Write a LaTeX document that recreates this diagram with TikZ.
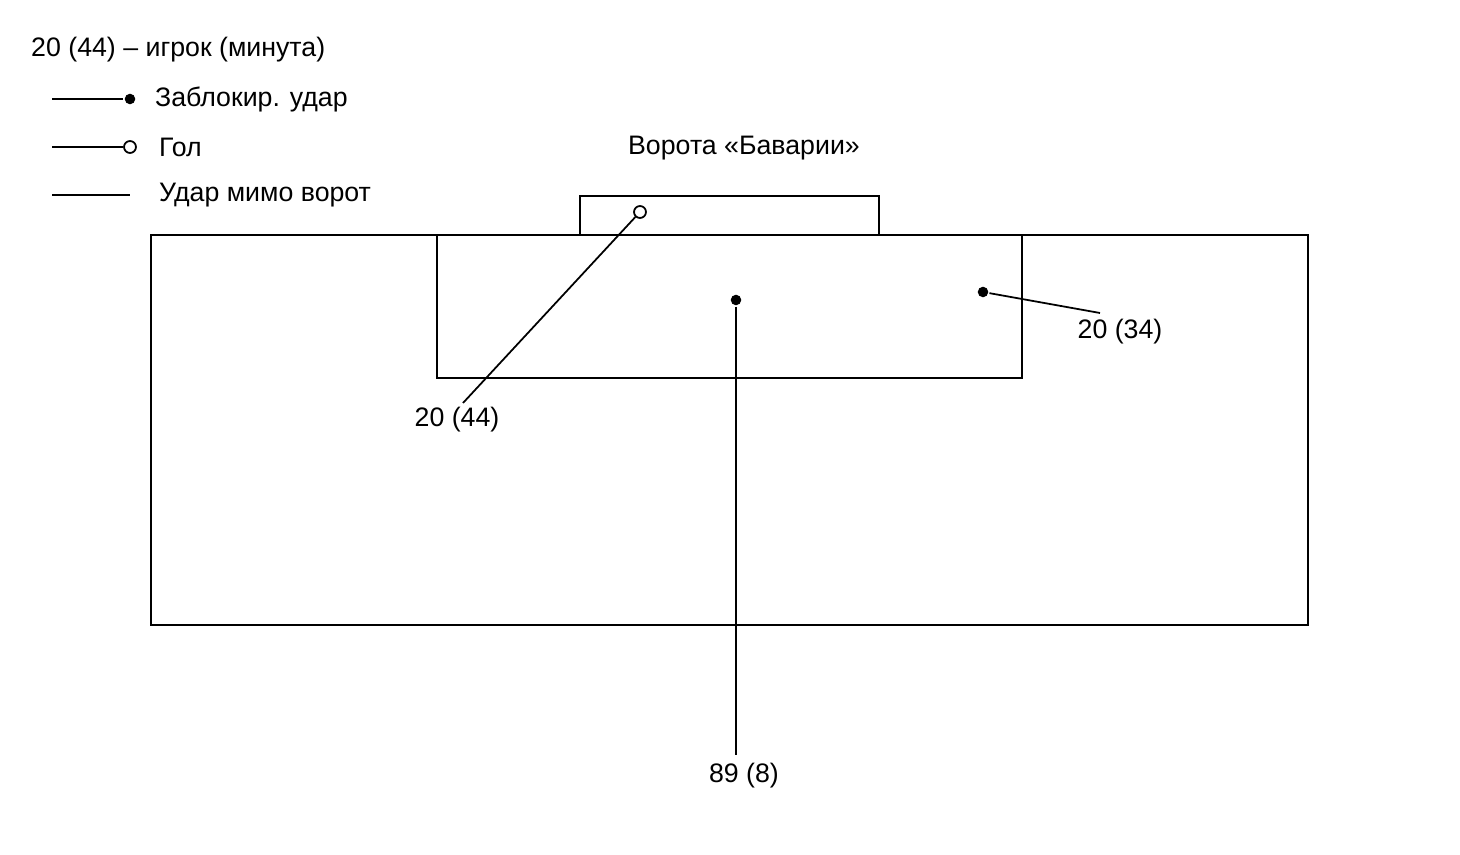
\documentclass[tikz,border=0pt]{standalone}
\usepackage{fontspec}
\setmainfont{Liberation Sans}
\begin{document}
\begin{tikzpicture}[x=0.01cm,y=-0.01cm,line width=0.7pt,
  lbl/.style={font=\fontsize{7.6pt}{9pt}\selectfont,inner sep=0pt},
  bdot/.style={circle,fill=black,inner sep=0pt,minimum size=3pt},
  odot/.style={circle,draw=black,fill=white,line width=0.5pt,inner sep=0pt,minimum size=3.4pt}]
\useasboundingbox (0,0) rectangle (1460,855);
% legend
\node[lbl,anchor=west] (leg) at (30,50) {20 (44) – игрок (минута)};
\coordinate (l1) at (52,99); \node[bdot] (d1) at (130,99) {};
\draw[line width=0.5pt] (l1) -- (d1);
\node[lbl,anchor=west] (t1) at (154,99) {Заблокир. удар};
\coordinate (l2) at (52,147); \node[odot] (d2) at (130,147) {};
\draw[line width=0.5pt] (l2) -- (d2);
\node[lbl,anchor=west] (t2) at (158,147) {Гол};
\coordinate (l3) at (52,195); \coordinate (l3b) at (130,195);
\draw[line width=0.5pt] (l3) -- (l3b);
\node[lbl,anchor=west] (t3) at (158,195) {Удар мимо ворот};
% field
\node[lbl] (gt) at (744,148) {Ворота «Баварии»};
\draw (580,235) |- (879,196) -- (879,235);
\draw (151,235) rectangle (1308,625);
\draw (437,235) |- (1022,378) -- (1022,235);
% shots
\node[odot] (s1) at (640,212) {};
\coordinate (e1) at (463,403);
\draw[line width=0.5pt] (s1) -- (e1);
\node[lbl] (n1) at (457,420) {20 (44)};
\node[bdot] (s2) at (736,300) {};
\coordinate (e2) at (736,755);
\draw[line width=0.5pt] (s2) -- (e2);
\node[lbl] (n2) at (744,776) {89 (8)};
\node[bdot] (s3) at (983,292) {};
\coordinate (e3) at (1100,313);
\draw[line width=0.5pt] (s3) -- (e3);
\node[lbl] (n3) at (1120,332) {20 (34)};
\end{tikzpicture}
\end{document}
